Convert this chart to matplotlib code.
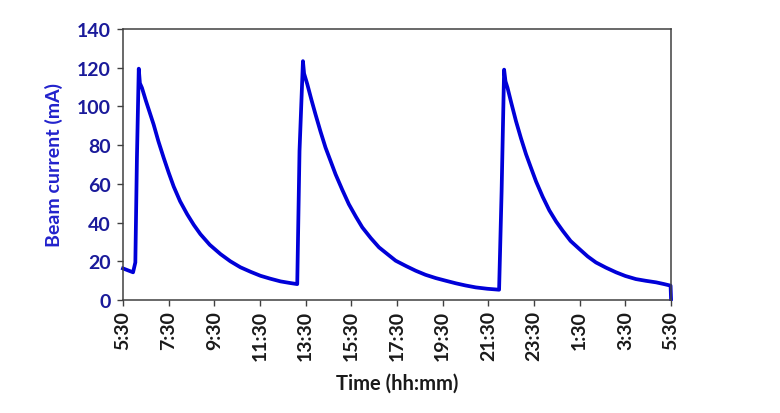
import matplotlib
matplotlib.use("Agg")
import matplotlib.pyplot as plt

# hours elapsed since 5:30 and beam current (mA)
hours = [0.0, 0.44, 0.54, 0.61, 0.69, 0.74, 0.83, 1.0, 1.34, 1.55, 1.78, 2.0, 2.22,
         2.5, 2.81, 3.1, 3.39, 3.8, 4.27, 4.7, 5.14, 5.6, 6.02, 6.45, 6.9, 7.3, 7.63,
         7.73, 7.88, 7.93, 8.07, 8.25, 8.43, 8.65, 8.87, 9.1, 9.31, 9.6, 9.89, 10.2,
         10.48, 10.85, 11.21, 11.6, 11.94, 12.4, 12.82, 13.25, 13.7, 14.15, 14.58,
         15.0, 15.45, 15.95, 16.47,
         16.58, 16.69, 16.75, 16.84, 17.0, 17.21, 17.43, 17.65, 17.87, 18.09, 18.38,
         18.67, 18.97, 19.26, 19.6, 19.99, 20.35, 20.71, 21.15, 21.59, 22.0, 22.46,
         22.9, 23.35, 23.7, 23.98, 24.0]
current = [16.3, 14.3, 19.4, 73.5, 119.5, 112.0, 109.6, 103.0, 90.7, 82.0, 73.5, 65.8, 58.6,
           51.0, 44.3, 38.8, 34.0, 28.5, 23.7, 20.0, 16.9, 14.5, 12.5, 11.0, 9.6, 8.8, 8.2,
           77.0, 123.4, 117.0, 111.5, 103.5, 95.9, 87.0, 78.7, 71.5, 64.9, 57.0, 49.5, 43.0,
           37.5, 32.0, 27.2, 23.5, 20.3, 17.5, 15.1, 13.0, 11.3, 9.9, 8.6,
           7.5, 6.5, 5.8, 5.3,
           56.0, 119.0, 113.0, 109.6, 102.0, 92.4, 83.5, 75.3, 68.2, 61.2, 53.3,
           46.3, 40.5, 35.7, 30.5, 26.3, 22.5, 19.4, 16.7, 14.3, 12.4, 10.8,
           9.9, 9.1, 8.2, 7.4, 0.5]

tick_hours = list(range(0, 25, 2))
tick_labels = ["5:30", "7:30", "9:30", "11:30", "13:30", "15:30", "17:30",
               "19:30", "21:30", "23:30", "1:30", "3:30", "5:30"]
y_ticks = [0, 20, 40, 60, 80, 100, 120, 140]

plt.rcParams['font.family'] = ['Lato', 'DejaVu Sans']
plt.rcParams['font.weight'] = 'bold'

fig = plt.figure(figsize=(7.8, 4.14), dpi=100)
ax = fig.add_axes([0.1577, 0.273, 0.7026, 0.6545])

ax.plot(hours, current, color='#0000d8', linewidth=2.7, solid_joinstyle='round',
        clip_on=False)

ax.set_xlim(0, 24)
ax.set_ylim(0, 140)
ax.set_xticks(tick_hours)
ax.set_xticklabels(tick_labels, rotation=90, fontsize=14, color='#1a1a1a', fontweight='bold')
ax.set_yticks(y_ticks)
ax.set_yticklabels([str(v) for v in y_ticks], fontsize=14, color='#1a1a9a', fontweight='bold')
ax.tick_params(axis='both', direction='out', length=4, width=1, color='#404040')
ax.tick_params(axis='x', pad=3)
ax.tick_params(axis='y', pad=5)

for s in ax.spines.values():
    s.set_color('#404040')
    s.set_linewidth(1.1)

ax.set_xlabel('Time (hh:mm)', fontsize=14.5, color='#1a1a1a', fontweight='bold', labelpad=9)
ax.set_ylabel('Beam current (mA)', fontsize=14, color='#2222cc', fontweight='bold', labelpad=10)

fig.savefig('out.png', dpi=100)
